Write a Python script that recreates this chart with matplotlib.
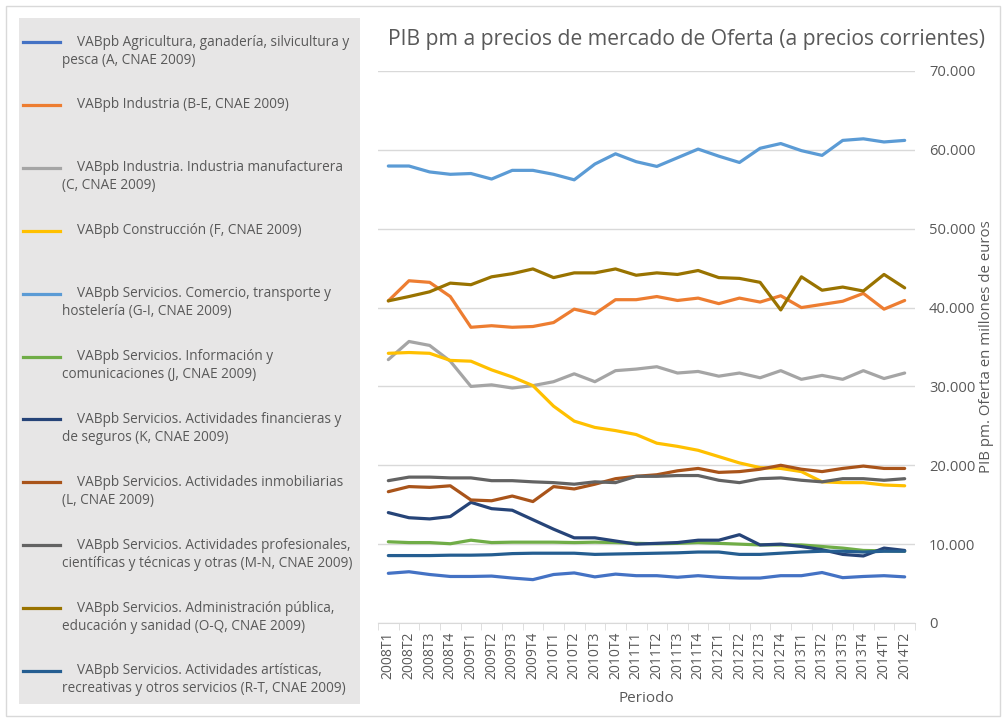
import matplotlib
matplotlib.use("Agg")
import matplotlib.pyplot as plt
from matplotlib.lines import Line2D
from matplotlib.patches import Rectangle
from matplotlib.ticker import FuncFormatter, FixedLocator

plt.rcParams['font.family'] = ['Open Sans', 'DejaVu Sans']

# Periodos trimestrales
periodos = ['2008T1', '2008T2', '2008T3', '2008T4', '2009T1', '2009T2', '2009T3', '2009T4',
            '2010T1', '2010T2', '2010T3', '2010T4', '2011T1', '2011T2', '2011T3', '2011T4',
            '2012T1', '2012T2', '2012T3', '2012T4', '2013T1', '2013T2', '2013T3', '2013T4',
            '2014T1', '2014T2']

# Valores en millones de euros
agricultura = [6300, 6500, 6150, 5900, 5900, 5950, 5700, 5500, 6150, 6350, 5850, 6200, 6000,
               6000, 5800, 6000, 5800, 5700, 5700, 6000, 6000, 6400, 5750, 5900, 6000, 5850]
industria = [40850, 43400, 43200, 41400, 37500, 37700, 37500, 37600, 38100, 39800, 39200, 41000,
             41000, 41400, 40900, 41200, 40500, 41200, 40700, 41500, 40000, 40400, 40800, 41800,
             39800, 40900]
manufacturera = [33400, 35700, 35200, 33200, 30000, 30200, 29800, 30100, 30600, 31600, 30600,
                 32000, 32200, 32500, 31700, 31900, 31300, 31700, 31100, 32000, 30900, 31400,
                 30900, 32000, 31000, 31700]
construccion = [34200, 34300, 34200, 33300, 33200, 32100, 31200, 30100, 27500, 25600, 24800,
                24400, 23900, 22800, 22400, 21900, 21100, 20300, 19700, 19600, 19200, 17900,
                17800, 17800, 17500, 17400]
comercio = [57950, 57950, 57200, 56900, 57000, 56300, 57400, 57400, 56900, 56200, 58200, 59500,
            58500, 57900, 59000, 60100, 59200, 58400, 60200, 60800, 59900, 59300, 61200, 61400,
            61000, 61200]
informacion = [10300, 10200, 10200, 10050, 10500, 10200, 10250, 10250, 10250, 10200, 10250,
               10200, 10100, 10050, 10100, 10200, 10100, 10000, 9900, 9900, 9900, 9700, 9500,
               9200, 9150, 9100]
financieras = [14000, 13350, 13200, 13500, 15300, 14500, 14300, 13100, 11900, 10800, 10800,
               10400, 10000, 10100, 10200, 10500, 10500, 11200, 9900, 10000, 9700, 9300, 8700,
               8500, 9500, 9200]
inmobiliarias = [16650, 17300, 17200, 17400, 15600, 15500, 16100, 15400, 17300, 17000, 17600,
                 18300, 18600, 18800, 19300, 19600, 19100, 19200, 19500, 20000, 19500, 19200,
                 19600, 19900, 19600, 19600]
profesionales = [18050, 18500, 18500, 18400, 18400, 18050, 18050, 17900, 17800, 17600, 17900,
                 17800, 18600, 18600, 18700, 18700, 18100, 17800, 18300, 18400, 18100, 17900,
                 18300, 18300, 18100, 18300]
administracion = [40850, 41400, 42000, 43100, 42900, 43900, 44300, 44900, 43800, 44400, 44400,
                  44900, 44100, 44400, 44200, 44700, 43800, 43700, 43200, 39700, 43900, 42200,
                  42600, 42100, 44200, 42500]
artisticas = [8550, 8550, 8550, 8600, 8600, 8650, 8800, 8850, 8850, 8850, 8700, 8750, 8800, 8850,
              8900, 9000, 9000, 8700, 8700, 8850, 9000, 9100, 9100, 9000, 9100, 9100]

etiquetas = [
    "VABpb Agricultura, ganadería, silvicultura y\npesca (A, CNAE 2009)",
    "VABpb Industria (B-E, CNAE 2009)",
    "VABpb Industria. Industria manufacturera\n(C, CNAE 2009)",
    "VABpb Construcción (F, CNAE 2009)",
    "VABpb Servicios. Comercio, transporte y\nhostelería (G-I, CNAE 2009)",
    "VABpb Servicios. Información y\ncomunicaciones (J, CNAE 2009)",
    "VABpb Servicios. Actividades financieras y\nde seguros (K, CNAE 2009)",
    "VABpb Servicios. Actividades inmobiliarias\n(L, CNAE 2009)",
    "VABpb Servicios. Actividades profesionales,\ncientíficas y técnicas y otras (M-N, CNAE 2009)",
    "VABpb Servicios. Administración pública,\neducación y sanidad (O-Q, CNAE 2009)",
    "VABpb Servicios. Actividades artísticas,\nrecreativas y otros servicios (R-T, CNAE 2009)",
]
series = [agricultura, industria, manufacturera, construccion, comercio, informacion,
          financieras, inmobiliarias, profesionales, administracion, artisticas]
colores = ['#4472C4', '#ED7D31', '#A5A5A5', '#FFC000', '#5B9BD5', '#70AD47',
           '#264478', '#A9541A', '#636363', '#997300', '#255E91']

W, H = 1007, 721
fig = plt.figure(figsize=(W / 100, H / 100), dpi=100)
texto = '#595959'

# Marco exterior y fondo de la leyenda
fig.patches.append(Rectangle((6 / W, 1 - 716 / H), 994 / W, 710 / H, transform=fig.transFigure,
                             fill=False, edgecolor='#D9D9D9', linewidth=1))
fig.patches.append(Rectangle((19 / W, 1 - 704 / H), 341 / W, 686 / H, transform=fig.transFigure,
                             facecolor='#E7E6E6', edgecolor='none'))

ax = fig.add_axes([378 / W, 1 - 623 / H, 537 / W, 552 / H])
x = list(range(len(periodos)))
for s, c in zip(series, colores):
    ax.plot(x, s, color=c, linewidth=2.3, solid_joinstyle='round', solid_capstyle='round')

ax.set_xlim(-0.5, len(periodos) - 0.5)
ax.set_ylim(0, 70000)
ax.set_yticks(range(0, 70001, 10000))
ax.yaxis.set_major_formatter(FuncFormatter(lambda v, p: f"{int(v):,}".replace(",", ".")))
ax.yaxis.tick_right()
ax.tick_params(axis='y', length=0, pad=10, labelsize=10.6, labelcolor=texto)
ax.grid(axis='y', color='#D9D9D9', linewidth=1)
ax.set_axisbelow(True)

ax.set_xticks(x)
ax.set_xticklabels(periodos, rotation=90)
ax.tick_params(axis='x', length=0, pad=6, labelsize=10, labelcolor=texto)
ax.xaxis.set_minor_locator(FixedLocator([i - 0.5 for i in range(len(periodos) + 1)]))
ax.tick_params(axis='x', which='minor', length=5, color='#D9D9D9')

for lado in ['top', 'left', 'right']:
    ax.spines[lado].set_visible(False)
ax.spines['bottom'].set_color('#D9D9D9')

ax.set_xlabel('Periodo', fontsize=11, color=texto, labelpad=9)
fig.text(987 / W, 1 - 347 / H, 'PIB pm. Oferta en millones de euros', rotation=90,
         ha='center', va='center', fontsize=10.8, color=texto)

fig.text(687 / W, 1 - 40 / H, 'PIB pm a precios de mercado de Oferta (a precios corrientes)',
         ha='center', va='center', fontsize=15.2, color=texto)

# Leyenda manual
for k, (lab, c) in enumerate(zip(etiquetas, colores)):
    y0 = 42 + 62.9 * k
    fig.lines.append(Line2D([23 / W, 60 / W], [1 - y0 / H, 1 - y0 / H], transform=fig.transFigure,
                            color=c, linewidth=2.3))
    lineas = lab.split('\n')
    fig.text(77 / W, 1 - y0 / H, lineas[0], ha='left', va='center', fontsize=9.8, color=texto)
    for j, l in enumerate(lineas[1:]):
        fig.text(62 / W, 1 - (y0 + 18 * (j + 1)) / H, l, ha='left', va='center',
                 fontsize=9.8, color=texto)

fig.savefig('out.png', dpi=100)
